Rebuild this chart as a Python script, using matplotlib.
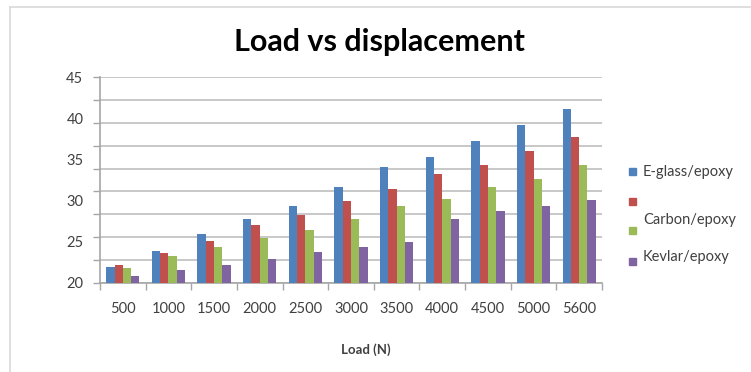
import numpy as np
import matplotlib
matplotlib.use("Agg")
import matplotlib.pyplot as plt
from matplotlib.patches import Rectangle
from matplotlib.lines import Line2D

# ---- data ----
loads = ["500", "1000", "1500", "2000", "2500", "3000", "3500", "4000", "4500", "5000", "5600"]
series_names = ["E-glass/epoxy", "Carbon/epoxy", "Kevlar/epoxy"]
eglass = [21.9, 23.8, 25.9, 27.7, 29.3, 31.6, 34.1, 35.3, 37.2, 39.2, 41.2]
carbon = [22.1, 23.6, 25.1, 27.0, 28.2, 29.9, 31.4, 33.2, 34.3, 36.0, 37.7]
green_series = [21.8, 23.2, 24.3, 25.4, 26.4, 27.8, 29.3, 30.2, 31.6, 32.6, 34.3]
kevlar = [20.8, 21.6, 22.1, 22.9, 23.7, 24.3, 25.0, 27.7, 28.7, 29.3, 30.1]
y_labels = [20, 25, 30, 35, 40, 45]

colors = ["#4F81BD", "#C0504D", "#9BBB59", "#8064A2"]
plt.rcParams['font.family'] = ['Lato', 'DejaVu Sans']

fig = plt.figure(figsize=(7.51, 3.72), dpi=100)
ax = fig.add_axes([100/751, 1-282.7/372, 502/751, 205.4/372])

x = np.arange(len(loads))
w = 0.182
all_series = [eglass, carbon, green_series, kevlar]
for i, (vals, c) in enumerate(zip(all_series, colors)):
    ax.bar(x + (i - 1.5) * w, np.array(vals) - 20, width=w, bottom=20, color=c, zorder=3)

ax.set_xlim(-0.5, len(loads) - 0.5)
ax.set_ylim(20, 45)
ax.yaxis.remove_overlapping_locs = False
ax.xaxis.remove_overlapping_locs = False

# gridlines / tick marks (10 lines)
ax.set_yticks(np.linspace(20, 45, 10))
ax.set_yticklabels([])
ax.set_yticks(y_labels, minor=True)
ax.set_yticklabels([str(v) for v in y_labels], minor=True)
ax.tick_params(axis='y', which='major', length=5, color='#A6A6A6', width=1)
ax.tick_params(axis='y', which='minor', length=0, pad=12, labelsize=10.5, labelcolor='#404040')
ax.grid(axis='y', which='major', color='#BFBFBF', linewidth=1.2, zorder=0)

ax.set_xticks(np.arange(-0.5, len(loads), 1.0))
ax.set_xticklabels([])
ax.set_xticks(x, minor=True)
ax.set_xticklabels(loads, minor=True)
ax.tick_params(axis='x', which='major', length=5, color='#A6A6A6', width=1)
ax.tick_params(axis='x', which='minor', length=0, pad=14, labelsize=10.5, labelcolor='#404040')

for s in ['top', 'right']:
    ax.spines[s].set_visible(False)
for s in ['left', 'bottom']:
    ax.spines[s].set_color('#A6A6A6')
    ax.spines[s].set_linewidth(1.2)

fig.text(379/751, 1-42/372, "Load vs displacement", ha='center', va='center',
         fontsize=22, fontweight='bold', color='black')
fig.text(366/751, 1-350/372, "Load (N)", ha='center', va='center',
         fontsize=9.5, fontweight='bold', color='#404040')

# legend (manual to mimic wrapped layout)
marker_y = [171.7, 201.7, 230, 261.7]
text_pos = [(643, 171.7, series_names[0]), (643, 220, series_names[1]), (643, 256.7, series_names[2])]
for my, c in zip(marker_y, colors):
    fig.patches.append(Rectangle((629/751, 1-(my+3.5)/372), 7/751, 7/372,
                                 transform=fig.transFigure, color=c, figure=fig))
for tx, ty, t in text_pos:
    fig.text(tx/751, 1-ty/372, t, ha='left', va='center', fontsize=10.5, color='#404040')

# chart frame
fig.add_artist(Line2D([10/751, 1], [1-6.5/372, 1-6.5/372], transform=fig.transFigure,
                      color='#D9D9D9', linewidth=1.2))
fig.add_artist(Line2D([10/751, 10/751], [0, 1-6.5/372], transform=fig.transFigure,
                      color='#D9D9D9', linewidth=1.2))

fig.savefig("out.png", dpi=100)
